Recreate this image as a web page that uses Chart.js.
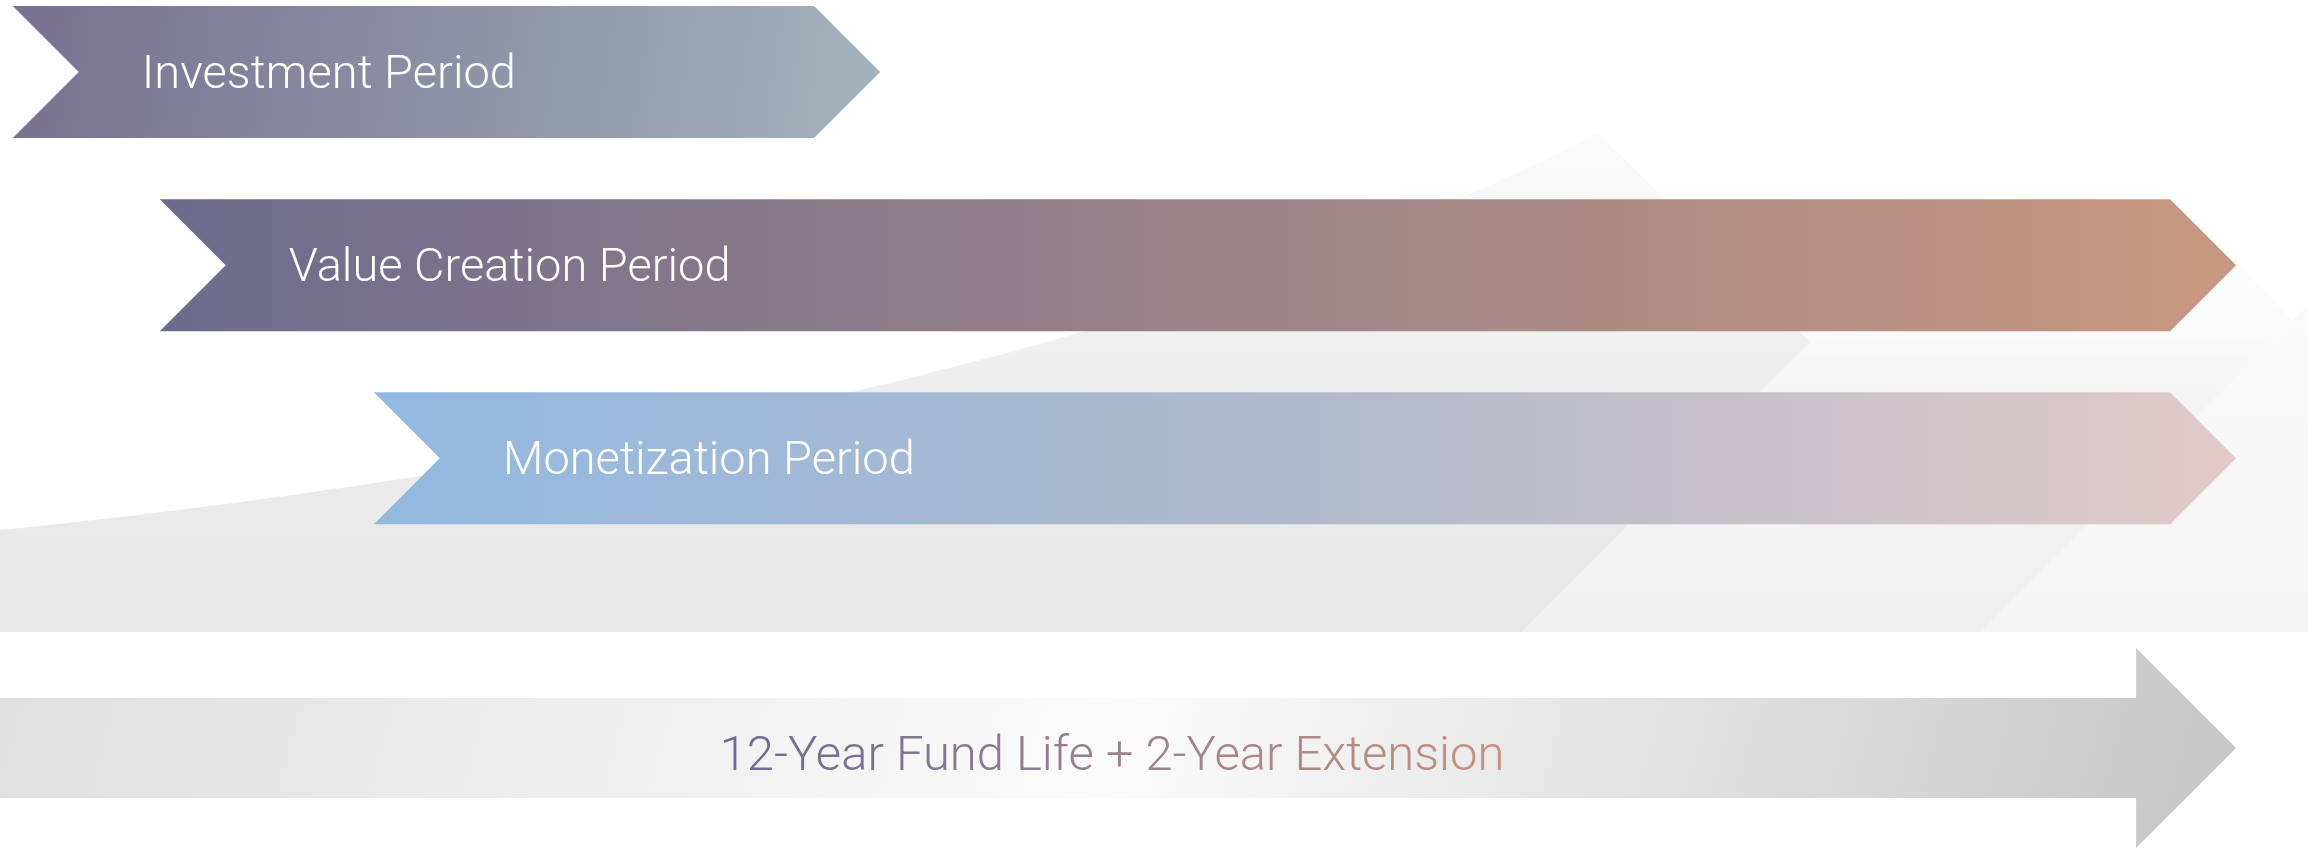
<!DOCTYPE html>
<html>
<head>
<meta charset="utf-8">
<script src="https://cdn.jsdelivr.net/npm/chart.js@4.4.1/dist/chart.umd.min.js"></script>
<style>
  html, body { margin: 0; padding: 0; background: #ffffff; }
  #wrap { width: 2308px; height: 848px; position: relative; }
</style>
</head>
<body>
<div id="wrap"><canvas id="timeline"></canvas></div>
<script>
// periods, in years from fund start (end = arrow tip)
const periodLabels = ['Investment Period', 'Value Creation Period', 'Monetization Period'];
const periodRows = [0, 1, 2];
const periodStart = [0.08, 1.0, 2.34];
const periodEnd = [5.51, 14.0, 14.0];

// overall fund life arrow
const fundLabel = '12-Year Fund Life + 2-Year Extension';
const fundRow = 3.5;
const fundStart = 0;
const fundEnd = 14.0;

// gradient stops per period chevron
const periodColors = [
  ['#77708f', '#8d91a5', '#a4b3bd'],
  ['#6c6b8d', '#9b8389', '#c99880'],
  ['#93b9e1', '#b0b9cc', '#e2cac8']
];

const FONT = 'Roboto, "Open Sans", sans-serif';

function drawBackdrop(ctx) {
  ctx.save();
  // back ghost chevron
  let g = ctx.createLinearGradient(0, 150, 0, 632);
  g.addColorStop(0, 'rgba(255,255,255,0)');
  g.addColorStop(0.5, '#f5f5f5');
  g.addColorStop(1, '#efefef');
  ctx.fillStyle = g;
  ctx.beginPath();
  ctx.moveTo(1400, 632);
  ctx.lineTo(1400, 153);
  ctx.lineTo(2127, 153);
  ctx.lineTo(2293, 320);
  ctx.lineTo(1981, 632);
  ctx.closePath();
  ctx.fill();

  // wash right of the back chevron
  g = ctx.createLinearGradient(0, 250, 0, 632);
  g.addColorStop(0, '#fafafa');
  g.addColorStop(1, '#f5f5f5');
  ctx.fillStyle = g;
  ctx.beginPath();
  ctx.moveTo(1981, 632);
  ctx.lineTo(2293, 320);
  ctx.lineTo(2308, 305);
  ctx.lineTo(2308, 632);
  ctx.closePath();
  ctx.fill();

  // front swoosh with chevron tip
  g = ctx.createLinearGradient(0, 632, 0, 130);
  g.addColorStop(0, '#e7e7e7');
  g.addColorStop(0.45, '#ececec');
  g.addColorStop(1, '#fbfbfb');
  ctx.fillStyle = g;
  ctx.beginPath();
  ctx.moveTo(0, 632);
  ctx.lineTo(0, 530);
  ctx.bezierCurveTo(600, 470, 1200, 340, 1598, 133);
  ctx.lineTo(1810, 342);
  ctx.lineTo(1521, 632);
  ctx.closePath();
  ctx.fill();
  ctx.restore();
}

const shapesPlugin = {
  id: 'shapes',
  beforeDatasetsDraw(chart) {
    drawBackdrop(chart.ctx);
  },
  afterDatasetsDraw(chart) {
    const ctx = chart.ctx;
    ctx.save();

    // period chevrons
    chart.getDatasetMeta(0).data.forEach((bar, i) => {
      const p = bar.getProps(['x', 'y', 'base', 'height'], true);
      const left = p.base, right = p.x, cy = p.y;
      const d = p.height / 2;
      const top = cy - d, bottom = cy + d;
      ctx.beginPath();
      ctx.moveTo(left, top);
      ctx.lineTo(right - d, top);
      ctx.lineTo(right, cy);
      ctx.lineTo(right - d, bottom);
      ctx.lineTo(left, bottom);
      ctx.lineTo(left + d, cy);
      ctx.closePath();
      const g = i === 0
        ? ctx.createLinearGradient(left, top, right, bottom)
        : ctx.createLinearGradient(left, cy, right, cy);
      const stops = periodColors[i];
      stops.forEach((c, k) => g.addColorStop(k / (stops.length - 1), c));
      ctx.fillStyle = g;
      ctx.fill();

      ctx.fillStyle = '#ffffff';
      ctx.font = '300 47px ' + FONT;
      ctx.textAlign = 'left';
      ctx.textBaseline = 'alphabetic';
      ctx.fillText(periodLabels[i], left + d + 63, cy + 16);
    });

    // fund life arrow
    chart.getDatasetMeta(1).data.forEach((bar) => {
      const p = bar.getProps(['x', 'y', 'base', 'height'], true);
      const left = p.base, right = p.x, cy = p.y;
      const h = p.height / 2;
      const head = p.height;       // head depth
      const headHalf = p.height;   // head half height
      ctx.beginPath();
      ctx.moveTo(left, cy - h);
      ctx.lineTo(right - head, cy - h);
      ctx.lineTo(right - head, cy - headHalf);
      ctx.lineTo(right, cy);
      ctx.lineTo(right - head, cy + headHalf);
      ctx.lineTo(right - head, cy + h);
      ctx.lineTo(left, cy + h);
      ctx.closePath();
      const g = ctx.createLinearGradient(left, cy - 300, right, cy + 300);
      g.addColorStop(0, '#dedede');
      g.addColorStop(0.5, '#fbfbfb');
      g.addColorStop(0.78, '#dcdcdc');
      g.addColorStop(1, '#c2c2c2');
      ctx.fillStyle = g;
      ctx.fill();

      ctx.font = '300 49px ' + FONT;
      ctx.textAlign = 'center';
      ctx.textBaseline = 'alphabetic';
      const cx = (left + right) / 2;
      const w = ctx.measureText(fundLabel).width;
      const tg = ctx.createLinearGradient(cx - w / 2, 0, cx + w / 2, 0);
      tg.addColorStop(0, '#6c6a92');
      tg.addColorStop(0.5, '#9a8190');
      tg.addColorStop(1, '#c5937b');
      ctx.fillStyle = tg;
      ctx.fillText(fundLabel, cx - 6, cy + 22);
    });

    ctx.restore();
  }
};

new Chart(document.getElementById('timeline'), {
  type: 'bar',
  data: {
    datasets: [
      {
        label: 'Periods',
        data: periodRows.map((r, i) => ({ x: [periodStart[i], periodEnd[i]], y: r })),
        backgroundColor: 'rgba(0,0,0,0)',
        borderWidth: 0,
        barThickness: 132,
        grouped: false
      },
      {
        label: 'Fund Life',
        data: [{ x: [fundStart, fundEnd], y: fundRow }],
        backgroundColor: 'rgba(0,0,0,0)',
        borderWidth: 0,
        barThickness: 100,
        grouped: false
      }
    ]
  },
  options: {
    indexAxis: 'y',
    responsive: true,
    maintainAspectRatio: false,
    animation: false,
    layout: { padding: 0 },
    scales: {
      x: { type: 'linear', min: 0, max: 14.45, offset: false, display: false },
      y: { type: 'linear', min: -0.3728, max: 4.0177, reverse: true, offset: false, display: false }
    },
    plugins: {
      legend: { display: false },
      tooltip: { enabled: false }
    }
  },
  plugins: [shapesPlugin]
});
</script>
</body>
</html>
